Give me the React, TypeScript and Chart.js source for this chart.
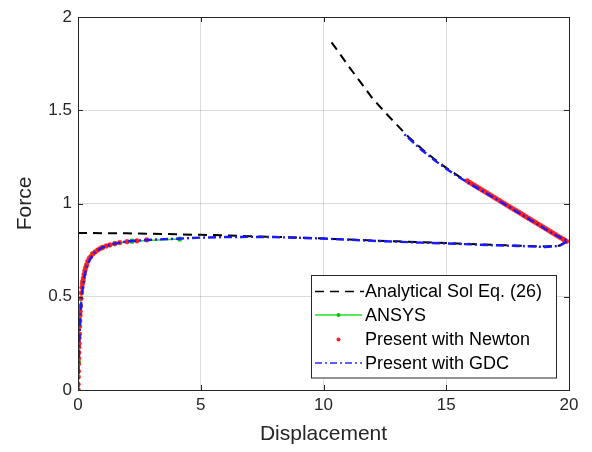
import React, { useEffect, useRef } from "react";
import { Chart, registerables } from "chart.js";

Chart.register(...registerables);

// ---- Data ----
const xTicks = [0, 5, 10, 15, 20];
const yTicks = [0, 0.5, 1, 1.5, 2];

const analyticalX = [0, 1, 2, 3, 4, 5, 6, 7, 8, 9, 10, 11, 12, 13, 14, 15, 16, 17, 18, 19, 19.6, 19.95,
  19.5, 19, 18.5, 18, 17.5, 17, 16.5, 16, 15.5, 15, 14.5, 14, 13.5, 13, 12.5, 12, 11.5, 11, 10.6, 10.2];
const analyticalY = [0.842, 0.841, 0.84, 0.838, 0.835, 0.832, 0.829, 0.825, 0.821, 0.817, 0.812, 0.807, 0.802, 0.797, 0.792, 0.788, 0.783, 0.778, 0.774, 0.77, 0.774, 0.8,
  0.83, 0.869, 0.909, 0.949, 0.989, 1.029, 1.069, 1.107, 1.147, 1.191, 1.24, 1.293, 1.352, 1.42, 1.49, 1.563, 1.652, 1.74, 1.815, 1.886];

const ansysX = [0, 0.02, 0.05, 0.1, 0.2, 0.35, 0.6, 1.0, 1.5, 2.2, 4.14];
const ansysY = [0, 0.15, 0.3, 0.45, 0.58, 0.67, 0.73, 0.765, 0.785, 0.798, 0.81];

const newtonX = [0, 0.005, 0.01, 0.015, 0.02, 0.025, 0.03, 0.035, 0.04, 0.045, 0.05, 0.06, 0.07, 0.08, 0.09, 0.1, 0.12, 0.14, 0.16, 0.18, 0.2, 0.22, 0.25, 0.28, 0.31, 0.35, 0.4, 0.46, 0.52, 0.6, 0.7, 0.8, 0.9, 1.0, 1.15, 1.3, 1.5, 1.7, 2.0, 2.4, 2.8,
  15.85, 15.95, 16.05, 16.15, 16.25, 16.35, 16.45, 16.55, 16.65, 16.75, 16.85, 16.95, 17.05, 17.15, 17.25, 17.35, 17.45, 17.55, 17.65, 17.75, 17.85, 17.95, 18.05, 18.15, 18.25, 18.35, 18.45, 18.55, 18.65, 18.75, 18.85, 18.95, 19.05, 19.15, 19.25, 19.35, 19.45, 19.55, 19.65, 19.75, 19.82, 19.9];
const newtonY = [0, 0.03, 0.07, 0.1, 0.14, 0.17, 0.2, 0.23, 0.25, 0.28, 0.3, 0.34, 0.37, 0.4, 0.42, 0.45, 0.49, 0.52, 0.55, 0.57, 0.585, 0.6, 0.62, 0.64, 0.655, 0.67, 0.69, 0.705, 0.715, 0.73, 0.74, 0.75, 0.758, 0.764, 0.772, 0.778, 0.785, 0.79, 0.795, 0.8, 0.805,
  1.121, 1.113, 1.105, 1.097, 1.089, 1.081, 1.073, 1.065, 1.057, 1.049, 1.041, 1.033, 1.025, 1.017, 1.009, 1.001, 0.993, 0.985, 0.977, 0.969, 0.961, 0.953, 0.945, 0.937, 0.929, 0.921, 0.913, 0.905, 0.897, 0.889, 0.881, 0.873, 0.865, 0.857, 0.849, 0.841, 0.833, 0.825, 0.817, 0.809, 0.803, 0.797];

const gdcX = [0, 0.02, 0.05, 0.1, 0.15, 0.25, 0.35, 0.5, 0.7, 1.0, 1.5, 2.0, 3.0, 4.0, 5.0, 6.0, 7.0, 8.0, 9.0, 10.0, 11.0, 12.0, 13.0, 14.0, 15.0, 16.0, 17.0, 18.0, 19.0, 19.6, 19.95,
  19.5, 19.0, 18.5, 18.0, 17.5, 17.0, 16.5, 16.0, 15.5, 15.0, 14.5, 14.0, 13.6, 13.2];
const gdcY = [0, 0.1, 0.25, 0.4, 0.5, 0.6, 0.66, 0.705, 0.74, 0.765, 0.785, 0.797, 0.806, 0.811, 0.817, 0.82, 0.821, 0.82, 0.816, 0.812, 0.806, 0.8, 0.795, 0.79, 0.786, 0.781, 0.776, 0.772, 0.767, 0.772, 0.798,
  0.827, 0.866, 0.906, 0.946, 0.986, 1.026, 1.065, 1.103, 1.142, 1.186, 1.234, 1.287, 1.334, 1.382];

const legendLabels = ["Analytical Sol Eq. (26)", "ANSYS", "Present with Newton", "Present with GDC"];

const FONT = "'Liberation Sans', Arial, Helvetica, sans-serif";
const AXIS_COLOR = "#262626";

const pts = (xs: number[], ys: number[]) => xs.map((x, i) => ({ x, y: ys[i] }));

const framePlugin = {
  id: "frame",
  afterDraw(chart: any) {
    const { ctx, chartArea } = chart;
    const { left, right, top, bottom } = chartArea;
    const xs = chart.scales.x;
    const ys = chart.scales.y;
    ctx.save();
    ctx.strokeStyle = AXIS_COLOR;
    ctx.lineWidth = 1;
    ctx.setLineDash([]);
    ctx.strokeRect(Math.round(left) + 0.5, Math.round(top) + 0.5, Math.round(right - left), Math.round(bottom - top));
    const tl = 5;
    ctx.beginPath();
    xTicks.forEach((v) => {
      const px = Math.round(xs.getPixelForValue(v)) + 0.5;
      ctx.moveTo(px, bottom);
      ctx.lineTo(px, bottom - tl);
      ctx.moveTo(px, top);
      ctx.lineTo(px, top + tl);
    });
    yTicks.forEach((v) => {
      const py = Math.round(ys.getPixelForValue(v)) + 0.5;
      ctx.moveTo(left, py);
      ctx.lineTo(left + tl, py);
      ctx.moveTo(right, py);
      ctx.lineTo(right - tl, py);
    });
    ctx.stroke();

    ctx.fillStyle = AXIS_COLOR;
    ctx.textAlign = "center";
    ctx.textBaseline = "middle";
    ctx.font = `21px ${FONT}`;
    ctx.fillText("Displacement", (left + right) / 2, 434);
    ctx.save();
    ctx.translate(25, (top + bottom) / 2);
    ctx.rotate(-Math.PI / 2);
    ctx.fillText("Force", 0, 0);
    ctx.restore();

    const bx = 311.5, by = 275.5, bw = 245, bh = 102.5;
    ctx.fillStyle = "#ffffff";
    ctx.fillRect(bx, by, bw, bh);
    ctx.strokeStyle = AXIS_COLOR;
    ctx.lineWidth = 1;
    ctx.strokeRect(bx, by, bw, bh);
    const rows = [291.5, 315, 339.5, 363];
    const x0 = 315, x1 = 362, xm = 338.5;
    ctx.strokeStyle = "#000000";
    ctx.lineWidth = 1.5;
    ctx.setLineDash([9, 6]);
    ctx.beginPath();
    ctx.moveTo(x0, rows[0]);
    ctx.lineTo(x1 + 2, rows[0]);
    ctx.stroke();
    ctx.setLineDash([]);
    ctx.strokeStyle = "#22e022";
    ctx.lineWidth = 1.5;
    ctx.beginPath();
    ctx.moveTo(x0, rows[1]);
    ctx.lineTo(x1, rows[1]);
    ctx.stroke();
    ctx.fillStyle = "#10c010";
    ctx.beginPath();
    ctx.arc(xm, rows[1], 2, 0, Math.PI * 2);
    ctx.fill();
    ctx.fillStyle = "#ff1a1a";
    ctx.beginPath();
    ctx.arc(xm, rows[2], 2, 0, Math.PI * 2);
    ctx.fill();
    ctx.strokeStyle = "#2a2aff";
    ctx.lineWidth = 1.5;
    ctx.setLineDash([7, 3, 2, 3]);
    ctx.beginPath();
    ctx.moveTo(x0, rows[3]);
    ctx.lineTo(x1, rows[3]);
    ctx.stroke();
    ctx.setLineDash([]);
    ctx.fillStyle = "#000000";
    ctx.textAlign = "left";
    ctx.textBaseline = "middle";
    ctx.font = `18px ${FONT}`;
    legendLabels.forEach((t, i) => ctx.fillText(t, 365, rows[i] + 1));
    ctx.restore();
  },
};

export default function App() {
  const ref = useRef<HTMLCanvasElement | null>(null);
  useEffect(() => {
    if (!ref.current) return;
    const chart = new Chart(ref.current, {
      type: "scatter",
      data: {
        datasets: [
          {
            label: legendLabels[3],
            data: pts(gdcX, gdcY),
            showLine: true,
            borderColor: "#1a1aff",
            borderWidth: 2.4,
            borderDash: [8, 3, 2, 3],
            pointRadius: 0,
            fill: false,
            order: 0,
          },
          {
            label: legendLabels[2],
            data: pts(newtonX, newtonY),
            showLine: false,
            pointRadius: 2.4,
            pointBackgroundColor: "#ff1a1a",
            pointBorderColor: "#ff3030",
            pointBorderWidth: 0.5,
            order: 1,
          },
          {
            label: legendLabels[1],
            data: pts(ansysX, ansysY),
            showLine: true,
            borderColor: "#22e022",
            borderWidth: 1.5,
            pointRadius: 1.8,
            pointBackgroundColor: "#10c010",
            pointBorderColor: "#10c010",
            order: 2,
          },
          {
            label: legendLabels[0],
            data: pts(analyticalX, analyticalY),
            showLine: true,
            borderColor: "#000000",
            borderWidth: 2,
            borderDash: [9, 6],
            pointRadius: 0,
            tension: 0,
            order: 3,
          },
        ],
      },
      options: {
        animation: false,
        responsive: false,
        maintainAspectRatio: false,
        layout: { padding: { left: 0, right: 23, top: 17, bottom: 0 } },
        plugins: { legend: { display: false }, tooltip: { enabled: false } },
        scales: {
          x: {
            type: "linear",
            min: 0,
            max: 20,
            afterBuildTicks: (s: any) => {
              s.ticks = xTicks.map((v) => ({ value: v }));
            },
            afterFit: (s: any) => {
              s.height = 62;
            },
            grid: { color: "rgba(0,0,0,0.14)", drawTicks: false, lineWidth: 1 },
            border: { display: false },
            ticks: {
              color: AXIS_COLOR,
              font: { family: FONT, size: 17 },
              padding: 5,
              maxRotation: 0,
              callback: (v: any) => String(v),
            },
          },
          y: {
            type: "linear",
            min: 0,
            max: 2,
            afterBuildTicks: (s: any) => {
              s.ticks = yTicks.map((v) => ({ value: v }));
            },
            afterFit: (s: any) => {
              s.width = 78;
            },
            grid: { color: "rgba(0,0,0,0.14)", drawTicks: false, lineWidth: 1 },
            border: { display: false },
            ticks: {
              color: AXIS_COLOR,
              font: { family: FONT, size: 17 },
              padding: 6,
              callback: (v: any) => String(v),
            },
          },
        },
      },
      plugins: [framePlugin],
    });
    return () => chart.destroy();
  }, []);
  return (
    <div style={{ position: "absolute", left: 0, top: 0, width: 592, height: 452, background: "#ffffff" }}>
      <canvas ref={ref} width={592} height={452} style={{ display: "block" }} />
    </div>
  );
}
